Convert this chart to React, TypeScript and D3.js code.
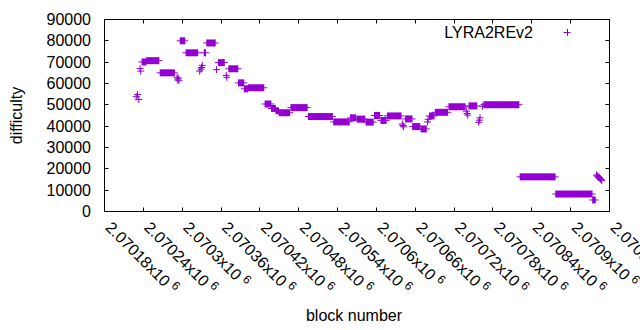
import React from "react";
import * as d3 from "d3";

const xTickValues = [2070180, 2070240, 2070300, 2070360, 2070420, 2070480, 2070540, 2070600, 2070660, 2070720, 2070780, 2070840, 2070900, 2070960];
const xTickLabels = ["2.07018", "2.07024", "2.0703", "2.07036", "2.07042", "2.07048", "2.07054", "2.0706", "2.07066", "2.07072", "2.07078", "2.07084", "2.0709", "2.07096"];
const yTickValues = [0, 10000, 20000, 30000, 40000, 50000, 60000, 70000, 80000, 90000];

// runs of consecutive blocks at (about) the same difficulty; single blocks have start == end
const runStart = [
  2070229, 2070231, 2070233, 2070235, 2070236, 2070238, 2070245, 2070266, 2070292, 2070293,
  2070294, 2070295, 2070297, 2070306, 2070327, 2070329, 2070330, 2070331, 2070334, 2070338,
  2070353, 2070356, 2070368, 2070369, 2070372, 2070387, 2070396, 2070402, 2070428, 2070438,
  2070445, 2070450, 2070468, 2070495, 2070534, 2070560, 2070570, 2070584, 2070597, 2070607,
  2070617, 2070640, 2070641, 2070642, 2070645, 2070656, 2070669, 2070679, 2070680, 2070682,
  2070691, 2070712, 2070739, 2070740, 2070741, 2070743, 2070758, 2070759, 2070760, 2070764,
  2070766, 2070822, 2070877, 2070934, 2070940, 2070941, 2070942, 2070943, 2070944, 2070945,
  2070946, 2070947, 2070948,
];
const runEnd = [
  2070229, 2070231, 2070233, 2070235, 2070236, 2070244, 2070264, 2070288, 2070292, 2070293,
  2070294, 2070295, 2070304, 2070324, 2070327, 2070329, 2070330, 2070331, 2070336, 2070351,
  2070353, 2070365, 2070368, 2070369, 2070386, 2070395, 2070401, 2070426, 2070437, 2070444,
  2070449, 2070466, 2070493, 2070532, 2070558, 2070568, 2070582, 2070595, 2070605, 2070615,
  2070638, 2070640, 2070641, 2070642, 2070655, 2070667, 2070677, 2070679, 2070680, 2070689,
  2070710, 2070737, 2070739, 2070740, 2070741, 2070755, 2070758, 2070759, 2070760, 2070764,
  2070820, 2070876, 2070933, 2070938, 2070940, 2070941, 2070942, 2070943, 2070944, 2070945,
  2070946, 2070947, 2070948,
];
const runDifficulty = [
  53800, 54800, 52500, 67000, 65800, 70100, 70700, 65000, 62900, 61700,
  62500, 61300, 80000, 74400, 65800, 66700, 67500, 68500, 74400, 79000,
  66500, 69800, 63800, 62900, 66900, 60300, 57500, 58000, 50400, 48300,
  47200, 46300, 48700, 44500, 42000, 43900, 43300, 41900, 45000, 42700,
  44800, 41000, 40300, 39700, 43400, 39800, 38700, 42000, 43200, 44800,
  46500, 49100, 47000, 45900, 45200, 49500, 41800, 42800, 43900, 49300,
  50050, 16250, 8200, 5400, 17100, 16700, 16500, 16100, 15800, 15600,
  15200, 14900, 14600,
];

const seriesName = "LYRA2REv2";
const COLOR = "#9400d3";
const FONT = "'Liberation Sans', Arial, sans-serif";

export default function App() {
  const W = 640, H = 330;
  const left = 104.5, right = 609.5, top = 19.5, bottom = 211.5;
  const x = d3.scaleLinear().domain([2070180, 2070960]).range([left, right]);
  const y = d3.scaleLinear().domain([0, 90000]).range([bottom, top]);
  const ps = 3.5;
  const tick = 4;

  return (
    <svg width={W} height={H} style={{ position: "absolute", left: 0, top: 0, background: "#fff" }} fontFamily={FONT}>
      <rect x={0} y={0} width={W} height={H} fill="#fff" />
      {/* data */}
      <g>
        {runStart.map((s, i) => {
          const x1 = x(s), x2 = x(runEnd[i]), yy = y(runDifficulty[i]);
          return (
            <g key={i}>
              <rect x={x1 - 0.5} y={yy - ps} width={x2 - x1 + 1} height={ps * 2} fill={COLOR} />
              <line x1={x1 - ps} x2={x2 + ps} y1={yy} y2={yy} stroke={COLOR} strokeWidth={1} />
            </g>
          );
        })}
      </g>
      {/* border */}
      <rect x={left} y={top} width={right - left} height={bottom - top} fill="none" stroke="#000" strokeWidth={1} />
      {/* y ticks */}
      {yTickValues.map((v) => (
        <g key={"y" + v}>
          <line x1={left} x2={left + tick} y1={Math.round(y(v) - 0.5) + 0.5} y2={Math.round(y(v) - 0.5) + 0.5} stroke="#000" />
          <line x1={right} x2={right - tick} y1={Math.round(y(v) - 0.5) + 0.5} y2={Math.round(y(v) - 0.5) + 0.5} stroke="#000" />
          <text x={91} y={y(v) + 5.5} textAnchor="end" fontSize={16} fill="#000">{v}</text>
        </g>
      ))}
      {/* x ticks */}
      {xTickValues.map((v, i) => {
        const xx = Math.round(x(v) - 0.5) + 0.5;
        return (
          <g key={"x" + v}>
            <line x1={xx} x2={xx} y1={bottom} y2={bottom - tick} stroke="#000" />
            <line x1={xx} x2={xx} y1={top} y2={top + tick} stroke="#000" />
            <text transform={`translate(${x(v)},228.5) rotate(45)`} fontSize={16} fill="#000">
              {xTickLabels[i] + "x10"}
              <tspan dx={4} dy={-6} fontSize={12}>6</tspan>
            </text>
          </g>
        );
      })}
      {/* axis titles */}
      <text transform="translate(22,115.5) rotate(-90)" textAnchor="middle" fontSize={16} fill="#000">difficulty</text>
      <text x={354} y={321} textAnchor="middle" fontSize={16} fill="#000">block number</text>
      {/* legend */}
      <text x={533} y={38} textAnchor="end" fontSize={16} fill="#000">{seriesName}</text>
      <line x1={567 - ps} x2={567 + ps} y1={32.5} y2={32.5} stroke={COLOR} />
      <line x1={567.5} x2={567.5} y1={32.5 - ps} y2={32.5 + ps} stroke={COLOR} />
    </svg>
  );
}
